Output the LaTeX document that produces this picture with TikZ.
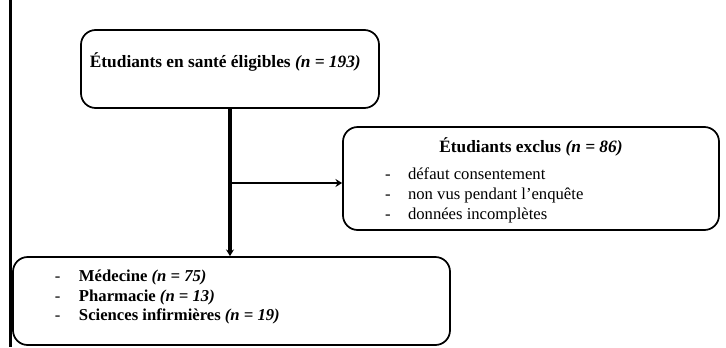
\documentclass[tikz,border=0pt]{standalone}
\usepackage{fontspec}
\setmainfont{Liberation Serif}
\usetikzlibrary{arrows.meta}
\tikzset{
  flowbox/.style={draw, line width=1.3pt, rounded corners=11pt, inner sep=0pt},
  flowline/.style={line width=2.4pt, -{Stealth[length=5pt,width=6pt]}},
}
\newcommand{\nval}[1]{\textbf{\textit{(n = #1)}}}
\newcommand{\dashitem}[2]{\hspace*{31.5pt}\makebox[#1][l]{-}#2\par}
\begin{document}
\begin{tikzpicture}[x=0.75pt,y=-0.75pt,font=\fontsize{12.5}{14.6}\selectfont]
  \useasboundingbox (0,0) rectangle (726,347);
  %% margin rule
  \draw[line width=2.4pt] (10.5,0) -- (10.5,347);
  %% eligible students
  \node[flowbox, minimum width=223.5pt, minimum height=58.5pt] (elig) at (230,69)
    {\fontsize{13}{15}\selectfont
     \raisebox{1.25pt}[0pt][0pt]{\hspace*{-7pt}\textbf{Étudiants en santé éligibles} \nval{193}}};
  %% excluded students
  \node[flowbox, minimum width=282pt, minimum height=77.25pt] (excl) at (531,178.5)
    {\raisebox{-4.6pt}[0pt][0pt]{\parbox{282pt}{\fontsize{12.5}{15}\selectfont
      \centering{\fontsize{13}{15}\selectfont\textbf{Étudiants exclus} \nval{86}\par}
      \vspace{5pt}
      \raggedright
      \dashitem{17.25pt}{défaut consentement}
      \dashitem{17.25pt}{non vus pendant l’enquête}
      \dashitem{17.25pt}{données incomplètes}}}};
  %% included students
  \node[flowbox, minimum width=327.75pt, minimum height=66pt] (incl) at (231.5,301)
    {\raisebox{-0.3pt}[0pt][0pt]{\parbox{327.75pt}{\raggedright
      \dashitem{18pt}{\textbf{Médecine} \nval{75}}
      \dashitem{18pt}{\textbf{Pharmacie} \nval{13}}
      \dashitem{18pt}{\textbf{Sciences infirmières} \nval{19}}}}};
  %% connectors
  \coordinate (split) at (elig.south |- 0,183);
  \draw[flowline] (elig.south) -- (elig.south |- incl.north);
  \draw[flowline, line width=2pt] (split) -- (split -| excl.west);
\end{tikzpicture}
\end{document}
